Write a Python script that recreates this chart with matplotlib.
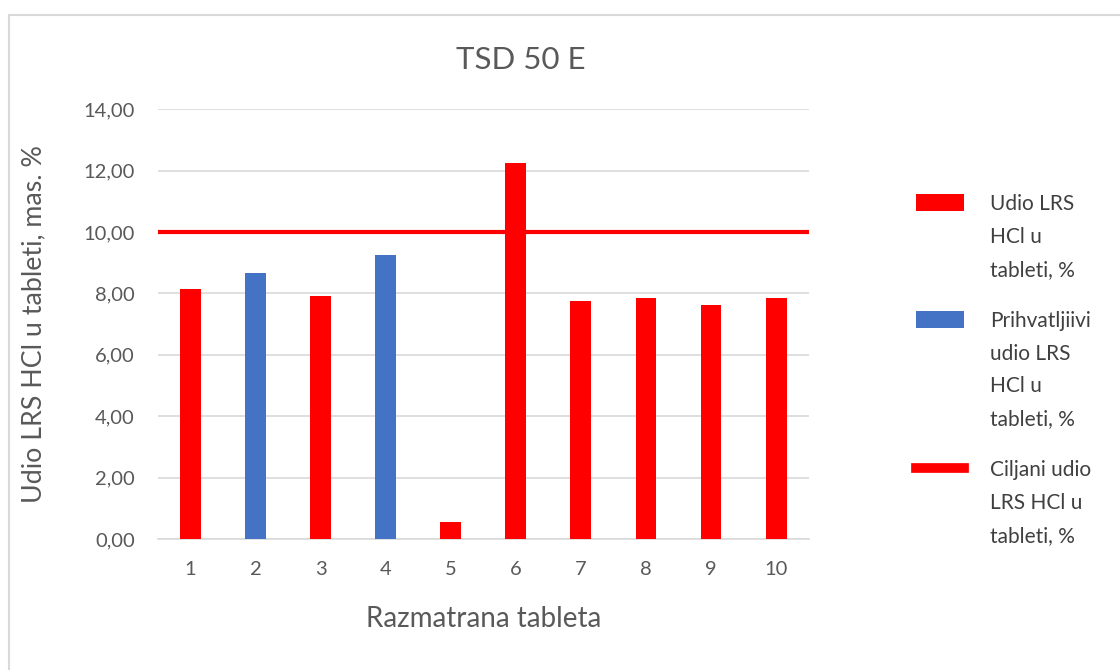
import matplotlib.pyplot as plt
from matplotlib.patches import Patch, Rectangle
from matplotlib.lines import Line2D

plt.rcParams['font.family'] = ['Lato', 'DejaVu Sans']

# data
tablets = [1, 2, 3, 4, 5, 6, 7, 8, 9, 10]
udio = [8.14, 8.65, 7.91, 9.25, 0.55, 12.24, 7.75, 7.85, 7.62, 7.85]
prihvatljivi = [False, True, False, True, False, False, False, False, False, False]
ciljani = 10.0
y_ticks = [0, 2, 4, 6, 8, 10, 12, 14]

red = '#ff0000'
blue = '#4472c4'
grey_text = '#595959'

fig = plt.figure(figsize=(11.2, 6.7), dpi=100)
ax = fig.add_axes([0.141, 0.1955, 0.581, 0.6415])

colors = [blue if p else red for p in prihvatljivi]
ax.bar(tablets, udio, width=0.32, color=colors, zorder=3)
ax.axhline(ciljani, color=red, linewidth=3, zorder=4)

ax.set_xlim(0.5, 10.5)
ax.set_ylim(0, 14)
ax.set_yticks(y_ticks)
ax.set_yticklabels([f'{v:.2f}'.replace('.', ',') for v in y_ticks])
ax.set_xticks(tablets)
ax.tick_params(axis='both', length=0, labelsize=14.5, labelcolor=grey_text)
ax.tick_params(axis='y', pad=16.5)
ax.tick_params(axis='x', pad=16)
ax.grid(axis='y', color='#d9d9d9', linewidth=1.2, zorder=0)
for s in ['top', 'right', 'left']:
    ax.spines[s].set_visible(False)
ax.spines['bottom'].set_color('#d9d9d9')
ax.spines['bottom'].set_linewidth(1.2)

fig.text(521 / 1120, 1 - 60 / 670, 'TSD 50 E', fontsize=22.5, color=grey_text,
         ha='center', va='center')
ax.set_xlabel('Razmatrana tableta', fontsize=20, color=grey_text, labelpad=20)
ax.set_ylabel('Udio LRS HCl u tableti, mas. %', fontsize=19.3, color=grey_text, labelpad=27)

handles = [
    Patch(facecolor=red),
    Patch(facecolor=blue),
    Line2D([0], [0], color=red, linewidth=7),
]
labels = [
    'Udio LRS\nHCl u\ntableti, %',
    'Prihvatljiivi\nudio LRS\nHCl u\ntableti, %',
    'Ciljani udio\nLRS HCl u\ntableti, %',
]
leg = fig.legend(handles, labels, loc='upper left', bbox_to_anchor=(916 / 1120, 1 - 194 / 670),
                 frameon=False, fontsize=15, labelcolor='#404040',
                 handlelength=2.3, handleheight=0.9, handletextpad=1.25,
                 labelspacing=1.5, borderpad=0, borderaxespad=0)
for t in leg.get_texts():
    t.set_linespacing(1.8)
# put each legend key next to the first line of its label
for col in leg._legend_handle_box.get_children():
    for item in col.get_children():
        item.align = 'top'

# chart border
fig.add_artist(Rectangle((9 / 1120, -0.1), 1.2, 1 - 15 / 670 + 0.1,
                         transform=fig.transFigure, fill=False,
                         edgecolor='#d9d9d9', linewidth=1.5))

fig.savefig('out.png', dpi=100)
